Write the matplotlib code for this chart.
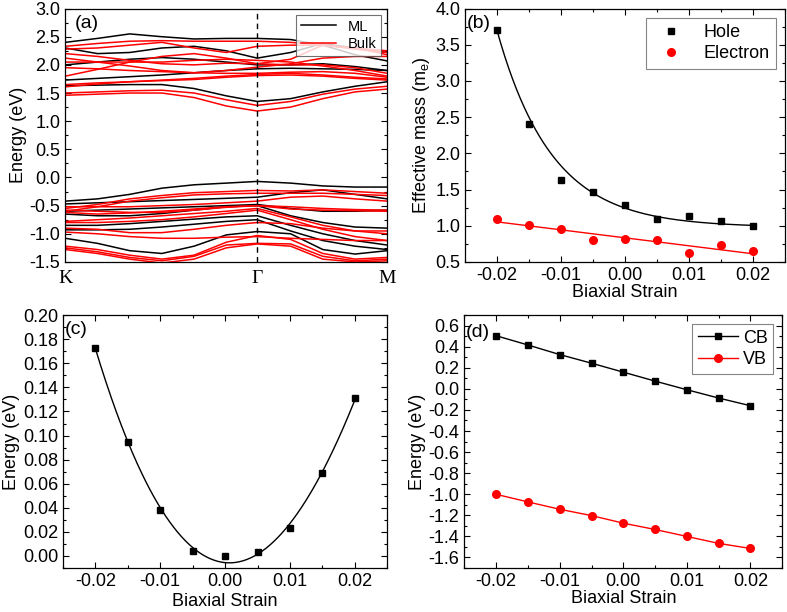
import matplotlib

matplotlib.use("Agg")
import matplotlib.pyplot as plt
import numpy as np
from matplotlib.ticker import AutoMinorLocator, MultipleLocator

plt.rcParams["font.family"] = ["Liberation Sans", "DejaVu Sans"]
plt.rcParams["axes.unicode_minus"] = False
plt.rcParams["font.size"] = 13

# band structure: k path K -> Gamma -> M, Gamma at 0.596 of the path
k_path = [0.0, 0.1, 0.2, 0.3, 0.4, 0.5, 0.596, 0.7, 0.8, 0.9, 1.0]
k_labels = ["K", "Γ", "M"]
k_ticks = [0.0, 0.596, 1.0]

ml_bands = [
    [2.40, 2.47, 2.55, 2.50, 2.46, 2.47, 2.47, 2.45, 2.35, 2.18, 2.07],
    [2.30, 2.20, 2.22, 2.30, 2.33, 2.25, 2.12, 2.22, 2.38, 2.30, 2.22],
    [2.00, 2.05, 2.10, 2.13, 2.10, 2.05, 2.00, 2.00, 2.02, 1.97, 1.90],
    [1.73, 1.76, 1.79, 1.82, 1.86, 1.90, 1.93, 1.94, 1.93, 1.92, 1.90],
    [1.63, 1.64, 1.65, 1.65, 1.58, 1.45, 1.35, 1.40, 1.52, 1.62, 1.70],
    [-0.42, -0.38, -0.30, -0.19, -0.13, -0.10, -0.07, -0.10, -0.15, -0.17, -0.17],
    [-0.47, -0.45, -0.43, -0.41, -0.39, -0.37, -0.35, -0.27, -0.22, -0.30, -0.38],
    [-0.60, -0.58, -0.56, -0.54, -0.52, -0.50, -0.48, -0.55, -0.60, -0.60, -0.58],
    [-0.65, -0.68, -0.68, -0.64, -0.58, -0.52, -0.50, -0.68, -0.80, -0.88, -0.90],
    [-0.85, -0.85, -0.82, -0.78, -0.74, -0.70, -0.68, -0.85, -1.00, -1.12, -1.20],
    [-0.93, -0.93, -0.92, -0.88, -0.83, -0.78, -0.75, -0.95, -1.12, -1.22, -1.28],
    [-1.08, -1.17, -1.30, -1.35, -1.22, -1.02, -0.96, -1.00, -1.28, -1.36, -1.30],
]
bulk_bands = [
    [2.33, 2.38, 2.42, 2.43, 2.42, 2.42, 2.42, 2.40, 2.35, 2.28, 2.22],
    [2.28, 2.30, 2.35, 2.40, 2.30, 2.22, 2.33, 2.35, 2.35, 2.30, 2.25],
    [2.20, 2.15, 2.08, 2.02, 2.00, 2.03, 2.02, 2.10, 2.35, 2.30, 2.18],
    [2.12, 2.05, 1.98, 1.90, 1.86, 1.90, 1.96, 2.02, 2.12, 2.15, 2.15],
    [1.80, 1.92, 2.05, 2.15, 2.20, 2.12, 2.02, 2.00, 2.00, 1.95, 1.85],
    [2.05, 2.05, 2.05, 2.05, 2.08, 2.10, 2.08, 2.05, 1.98, 1.90, 1.80],
    [1.95, 1.93, 1.90, 1.88, 1.86, 1.85, 1.85, 1.87, 1.88, 1.85, 1.78],
    [1.65, 1.68, 1.70, 1.73, 1.76, 1.80, 1.83, 1.85, 1.82, 1.78, 1.75],
    [1.61, 1.66, 1.70, 1.72, 1.74, 1.78, 1.81, 1.82, 1.80, 1.76, 1.73],
    [1.50, 1.52, 1.54, 1.55, 1.50, 1.38, 1.28, 1.35, 1.48, 1.57, 1.62],
    [1.46, 1.48, 1.50, 1.50, 1.42, 1.27, 1.18, 1.25, 1.40, 1.52, 1.57],
    [-0.55, -0.48, -0.38, -0.32, -0.27, -0.25, -0.23, -0.24, -0.22, -0.25, -0.28],
    [-0.60, -0.52, -0.42, -0.36, -0.31, -0.29, -0.28, -0.28, -0.28, -0.30, -0.32],
    [-0.52, -0.52, -0.52, -0.50, -0.48, -0.45, -0.42, -0.35, -0.33, -0.38, -0.42],
    [-0.58, -0.60, -0.62, -0.62, -0.58, -0.53, -0.50, -0.52, -0.55, -0.57, -0.58],
    [-0.62, -0.65, -0.63, -0.60, -0.56, -0.52, -0.50, -0.56, -0.58, -0.59, -0.60],
    [-0.78, -0.75, -0.72, -0.68, -0.64, -0.60, -0.55, -0.70, -0.85, -0.95, -1.00],
    [-0.80, -0.80, -0.78, -0.75, -0.70, -0.64, -0.58, -0.75, -0.92, -1.05, -1.12],
    [-0.90, -0.92, -0.98, -0.98, -0.92, -0.85, -0.80, -0.82, -0.90, -0.95, -0.95],
    [-0.97, -1.00, -1.05, -1.08, -1.08, -1.06, -1.05, -1.08, -1.10, -1.12, -1.12],
    [-1.22, -1.28, -1.38, -1.45, -1.38, -1.15, -1.03, -1.10, -1.35, -1.45, -1.42],
    [-1.25, -1.32, -1.42, -1.48, -1.40, -1.20, -1.17, -1.18, -1.40, -1.48, -1.45],
    [-1.28, -1.35, -1.45, -1.52, -1.45, -1.25, -1.18, -1.22, -1.45, -1.50, -1.48],
]

strain = [-0.02, -0.015, -0.01, -0.005, 0.0, 0.005, 0.01, 0.015, 0.02]
hole_mass = [3.71, 2.41, 1.63, 1.46, 1.29, 1.10, 1.14, 1.06, 0.99]
electron_mass = [1.10, 1.01, 0.96, 0.80, 0.82, 0.80, 0.63, 0.73, 0.65]
gap_energy = [0.173, 0.095, 0.038, 0.0044, 0.0, 0.003, 0.0235, 0.0686, 0.1308]
cb_energy = [0.505, 0.417, 0.326, 0.244, 0.159, 0.074, -0.008, -0.087, -0.160]
vb_energy = [-1.001, -1.073, -1.143, -1.203, -1.275, -1.335, -1.401, -1.467, -1.515]


def _style(ax, minor=2):
    ax.xaxis.set_minor_locator(AutoMinorLocator(minor))
    ax.yaxis.set_minor_locator(AutoMinorLocator(minor))
    ax.tick_params(which="both", direction="in", top=True, right=True, labelsize=13)
    ax.tick_params(which="major", length=4, width=0.8)
    ax.tick_params(which="minor", length=2.5, width=0.8)
    for spine in ax.spines.values():
        spine.set_linewidth(0.9)


def _exp_fit(x, y):
    x = np.asarray(x)
    y = np.asarray(y)
    best = None
    for y0 in np.linspace(0.0, y.min() - 1e-3, 400):
        b, a = np.polyfit(x, np.log(y - y0), 1)
        err = np.sum((np.exp(a + b * x) + y0 - y) ** 2)
        if best is None or err < best[0]:
            best = (err, a, b, y0)
    _, a, b, y0 = best
    return lambda t: np.exp(a + b * t) + y0


fig = plt.figure(figsize=(7.87, 6.12), dpi=100)
ax_a = fig.add_axes([0.083, 0.572, 0.409, 0.414])
ax_b = fig.add_axes([0.591, 0.572, 0.406, 0.414])
ax_c = fig.add_axes([0.080, 0.072, 0.412, 0.413])
ax_d = fig.add_axes([0.590, 0.072, 0.404, 0.413])

# (a) band structure
for i, band in enumerate(ml_bands):
    ax_a.plot(k_path, band, color="black", lw=1.1, label="ML" if i == 0 else None)
for i, band in enumerate(bulk_bands):
    ax_a.plot(k_path, band, color="red", lw=1.1, label="Bulk" if i == 0 else None)
ax_a.axvline(k_ticks[1], color="black", ls=(0, (4, 3)), lw=1.0)
ax_a.set_xlim(0, 1)
ax_a.set_ylim(-1.5, 3.0)
ax_a.yaxis.set_major_locator(MultipleLocator(0.5))
_style(ax_a)
ax_a.set_xticks(k_ticks)
ax_a.set_xticklabels(k_labels, family="Liberation Serif", fontsize=14)
ax_a.tick_params(axis="x", which="both", length=0, top=False, pad=6)
ax_a.xaxis.set_minor_locator(plt.NullLocator())
ax_a.set_ylabel("Energy (eV)", labelpad=2)
ax_a.text(0.03, 0.975, "(a)", transform=ax_a.transAxes, va="top", ha="left", fontsize=14)
leg = ax_a.legend(loc="upper right", fontsize=10.5, handlelength=2.4, borderpad=0.3,
                  labelspacing=0.25, fancybox=False, borderaxespad=0.45)
leg.get_frame().set_edgecolor("0.3")
leg.get_frame().set_linewidth(0.8)

# (b) effective mass
xs = np.linspace(strain[0], strain[-1], 200)
ax_b.plot(strain, hole_mass, "s", color="black", ms=5, label="Hole")
ax_b.plot(strain, electron_mass, "o", color="red", ms=5.5, label="Electron")
ax_b.plot(xs, _exp_fit(strain, hole_mass)(xs), color="black", lw=1.0)
ax_b.plot(xs, np.polyval(np.polyfit(strain, electron_mass, 1), xs), color="red", lw=1.0)
ax_b.set_xlim(-0.025, 0.025)
ax_b.set_ylim(0.5, 4.0)
ax_b.set_xticks(strain[::2])
ax_b.yaxis.set_major_locator(MultipleLocator(0.5))
_style(ax_b)
ax_b.set_xlabel("Biaxial Strain", labelpad=0)
ax_b.set_ylabel("Effective mass (m$_\\mathregular{e}$)", labelpad=2)
ax_b.text(0.005, 0.975, "(b)", transform=ax_b.transAxes, va="top", ha="left", fontsize=14)
leg = ax_b.legend(loc="upper right", fontsize=13, handletextpad=0.8, borderpad=0.35,
                  labelspacing=0.25, fancybox=False, borderaxespad=0.5)
leg.get_frame().set_edgecolor("0.4")
leg.get_frame().set_linewidth(0.8)

# (c) energy vs strain
ax_c.plot(strain, gap_energy, "s", color="black", ms=5)
ax_c.plot(xs, np.polyval(np.polyfit(strain, gap_energy, 3), xs), color="black", lw=1.0)
ax_c.set_xlim(-0.025, 0.025)
ax_c.set_ylim(-0.01, 0.20)
ax_c.set_xticks(strain[::2])
ax_c.yaxis.set_major_locator(MultipleLocator(0.02))
_style(ax_c)
ax_c.set_xlabel("Biaxial Strain", labelpad=2)
ax_c.set_ylabel("Energy (eV)", labelpad=2)
ax_c.text(0.005, 0.975, "(c)", transform=ax_c.transAxes, va="top", ha="left", fontsize=14)

# (d) band edges
ax_d.plot(strain, cb_energy, "-s", color="black", ms=5, lw=1.0, label="CB")
ax_d.plot(strain, vb_energy, "-o", color="red", ms=5.5, lw=1.0, label="VB")
ax_d.set_xlim(-0.025, 0.025)
ax_d.set_ylim(-1.7, 0.7)
ax_d.set_xticks(strain[::2])
ax_d.yaxis.set_major_locator(MultipleLocator(0.2))
_style(ax_d)
ax_d.set_xlabel("Biaxial Strain", labelpad=0)
ax_d.set_ylabel("Energy (eV)", labelpad=2)
ax_d.text(0.005, 0.965, "(d)", transform=ax_d.transAxes, va="top", ha="left", fontsize=14)
leg = ax_d.legend(loc="upper right", fontsize=13, handlelength=2.2, handletextpad=0.3,
                  borderpad=0.3, labelspacing=0.25, fancybox=False, borderaxespad=0.5)
leg.get_frame().set_edgecolor("0.4")
leg.get_frame().set_linewidth(0.8)

fig.savefig("out.png", dpi=100)
plt.close(fig)
